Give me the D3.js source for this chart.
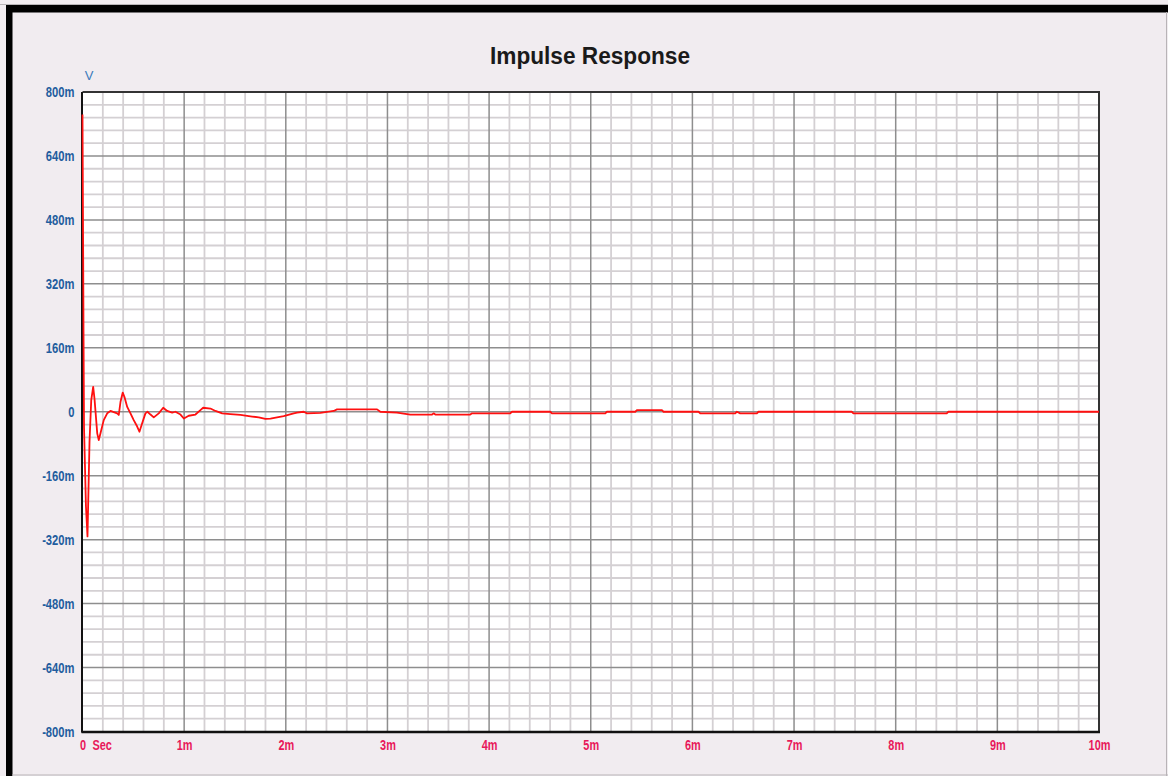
<!DOCTYPE html>
<html>
<head>
<meta charset="utf-8">
<script src="https://cdn.jsdelivr.net/npm/d3@7"></script>
<style>
  html, body { margin: 0; padding: 0; background: #f1ecf0; }
  svg { display: block; }
</style>
</head>
<body>
<svg id="chart" width="1168" height="776"></svg>
<script>
// ---- data (time in ms, voltage in mV) ----
const title = "Impulse Response";
const yUnit = "V";
const xTickValues = [0, 1, 2, 3, 4, 5, 6, 7, 8, 9, 10];
const xTickLabels = ["0", "1m", "2m", "3m", "4m", "5m", "6m", "7m", "8m", "9m", "10m"];
const xUnitLabel = "Sec";
const yTickValues = [800, 640, 480, 320, 160, 0, -160, -320, -480, -640, -800];
const yTickLabels = ["800m", "640m", "480m", "320m", "160m", "0", "-160m", "-320m", "-480m", "-640m", "-800m"];

const timeMs = [
  0, 0.010, 0.015, 0.034, 0.049, 0.069, 0.086, 0.105, 0.118, 0.145, 0.160, 0.177,
  0.209, 0.243, 0.275, 0.341, 0.357, 0.374, 0.396, 0.413, 0.440, 0.472, 0.504,
  0.538, 0.560, 0.587, 0.619, 0.639, 0.669, 0.701, 0.750, 0.794, 0.833, 0.882,
  0.914, 0.964, 0.997, 1.045, 1.111, 1.160, 1.187, 1.259, 1.308, 1.374, 1.455,
  1.554, 1.669, 1.734, 1.799, 1.849, 1.914, 1.979, 2.078, 2.111, 2.176, 2.209,
  2.340, 2.471, 2.504, 2.898, 2.930, 3.094, 3.225, 3.439, 3.454, 3.471, 3.815,
  3.832, 4.208, 4.225, 4.602, 4.618, 5.143, 5.159, 5.438, 5.454, 5.700, 5.716,
  6.060, 6.077, 6.421, 6.438, 6.470, 6.634, 6.650, 7.568, 7.584, 8.502, 8.518, 10
];
const voltsMv = [
  744, 199, -40, -237, -312, -75, 29, 62, 33, -54, -71, -54,
  -21, -4, 2, -4, -8, 25, 48, 37, 12, -4, -21,
  -37, -50, -29, -4, 0, -7, -14, -4, 10, 2, -2,
  0, -7, -17, -10, -7, 4, 10, 8, 2, -4, -6,
  -8, -12, -14, -18, -17, -14, -11, -4, -2, 0, -4,
  -3, 2, 6, 6, 0, -2, -7, -7, -4, -7, -7,
  -4, -4, 0, 0, -4, -4, 0, 0, 4, 4, 0,
  0, -4, -4, 0, -4, -4, 0, 0, -4, -4, 0, 0
];

// ---- layout ----
const svg = d3.select("#chart");
const W = 1168, H = 776;
const plot = { left: 82.5, right: 1099, top: 92, bottom: 731.5 };

function condense(sel, factor) {
  sel.each(function () {
    const L = this.getComputedTextLength();
    d3.select(this).attr("textLength", L * factor).attr("lengthAdjust", "spacingAndGlyphs");
  });
}

// frame
svg.append("rect").attr("x", 0).attr("y", 0).attr("width", W).attr("height", H).attr("fill", "#f1ecf0");
svg.append("line").attr("x1", 0).attr("x2", W).attr("y1", 4.5).attr("y2", 4.5).attr("stroke", "#b8b4b7").attr("stroke-width", 1);
svg.append("rect").attr("x", 6).attr("y", 5).attr("width", W - 6).attr("height", 7.5).attr("fill", "#000");
svg.append("rect").attr("x", 6).attr("y", 5).attr("width", 6.5).attr("height", H - 5).attr("fill", "#000");
svg.append("line").attr("x1", 1166.5).attr("x2", 1166.5).attr("y1", 12).attr("y2", H).attr("stroke", "#b8b4b7").attr("stroke-width", 1);
svg.append("line").attr("x1", 12).attr("x2", W).attr("y1", 775).attr("y2", 775).attr("stroke", "#b8b4b7").attr("stroke-width", 1);

const x = d3.scaleLinear().domain([0, 10]).range([plot.left, plot.right]);
const y = d3.scaleLinear().domain([-800, 800]).range([plot.bottom, plot.top]);

// plot background
svg.append("rect")
  .attr("x", plot.left).attr("y", plot.top)
  .attr("width", plot.right - plot.left).attr("height", plot.bottom - plot.top)
  .attr("fill", "#ffffff");

// grid (minor then major)
const g = svg.append("g");
const xMinor = d3.range(0, 50).map(i => i * 0.2).filter(v => Math.abs(v - Math.round(v)) > 1e-6);
const yMinor = d3.range(-25, 25).map(i => i * 32).filter(v => Math.abs(v % 160) > 1e-6);
g.selectAll(".vxm").data(xMinor).join("line")
  .attr("x1", d => x(d)).attr("x2", d => x(d))
  .attr("y1", plot.top).attr("y2", plot.bottom)
  .attr("stroke", "#d4d0d3").attr("stroke-width", 1.8);
g.selectAll(".hym").data(yMinor).join("line")
  .attr("x1", plot.left).attr("x2", plot.right)
  .attr("y1", d => y(d)).attr("y2", d => y(d))
  .attr("stroke", "#d4d0d3").attr("stroke-width", 1.8);
g.selectAll(".vxM").data(xTickValues.slice(1, -1)).join("line")
  .attr("x1", d => x(d)).attr("x2", d => x(d))
  .attr("y1", plot.top).attr("y2", plot.bottom)
  .attr("stroke", "#8e8e8e").attr("stroke-width", 1.5);
g.selectAll(".hyM").data(yTickValues.slice(1, -1)).join("line")
  .attr("x1", plot.left).attr("x2", plot.right)
  .attr("y1", d => y(d)).attr("y2", d => y(d))
  .attr("stroke", "#8e8e8e").attr("stroke-width", 1.5);

// plot border
svg.append("line").attr("x1", plot.left).attr("x2", plot.right + 1).attr("y1", plot.top).attr("y2", plot.top).attr("stroke", "#333").attr("stroke-width", 2);
svg.append("line").attr("x1", plot.right).attr("x2", plot.right).attr("y1", plot.top).attr("y2", plot.bottom + 1).attr("stroke", "#333").attr("stroke-width", 2);
svg.append("line").attr("x1", plot.left - 1).attr("x2", plot.right + 1).attr("y1", plot.bottom + 0.5).attr("y2", plot.bottom + 0.5).attr("stroke", "#111").attr("stroke-width", 2.5);
svg.append("line").attr("x1", plot.left - 0.5).attr("x2", plot.left - 0.5).attr("y1", plot.top).attr("y2", plot.bottom + 1).attr("stroke", "#111").attr("stroke-width", 2);

// the series
const pts = timeMs.map((t, i) => [t, voltsMv[i]]);
const line = d3.line().x(d => x(d[0])).y(d => y(d[1])).curve(d3.curveLinear);
svg.append("path").datum(pts)
  .attr("d", line)
  .attr("fill", "none")
  .attr("stroke", "#ff1010")
  .attr("stroke-width", 1.8)
  .attr("stroke-linejoin", "round");

// axes labels
const lab = "'Liberation Sans Narrow', 'Liberation Sans', Arial, sans-serif";
const yAxis = d3.axisLeft(y).tickValues(yTickValues).tickFormat((d, i) => yTickLabels[i]).tickSize(0).tickPadding(8);
const ya = svg.append("g").attr("transform", `translate(${plot.left},0)`).call(yAxis);
ya.select(".domain").remove();
ya.selectAll("text")
  .attr("fill", "#1f5d9e").attr("font-family", lab).attr("font-weight", "bold").attr("font-size", 14)
  .attr("dy", "0.35em");
condense(ya.selectAll("text"), 0.8);

const xAxis = d3.axisBottom(x).tickValues(xTickValues).tickFormat((d, i) => xTickLabels[i]).tickSize(0).tickPadding(9);
const xa = svg.append("g").attr("transform", `translate(0,${plot.bottom})`).call(xAxis);
xa.select(".domain").remove();
xa.selectAll("text")
  .attr("fill", "#e8185a").attr("font-family", lab).attr("font-weight", "bold").attr("font-size", 14);
condense(xa.selectAll("text"), 0.78);
const su = svg.append("text")
  .attr("x", x(0) + 10).attr("y", plot.bottom + 9)
  .attr("dy", "0.71em")
  .attr("fill", "#e8185a").attr("font-family", lab).attr("font-weight", "bold").attr("font-size", 14)
  .text(xUnitLabel);
condense(su, 0.78);

// unit
svg.append("text")
  .attr("x", 89).attr("y", 80)
  .attr("text-anchor", "middle")
  .attr("fill", "#3b7bbb").attr("font-family", "'Liberation Sans', Arial, sans-serif").attr("font-size", 13)
  .text(yUnit);

// title
const tt = svg.append("text")
  .attr("x", 590).attr("y", 64)
  .attr("text-anchor", "middle")
  .attr("fill", "#1a1a1a").attr("font-family", "'Liberation Sans', Arial, sans-serif").attr("font-weight", "bold").attr("font-size", 23)
  .text(title);
condense(tt, 200 / tt.node().getComputedTextLength());
</script>
</body>
</html>
